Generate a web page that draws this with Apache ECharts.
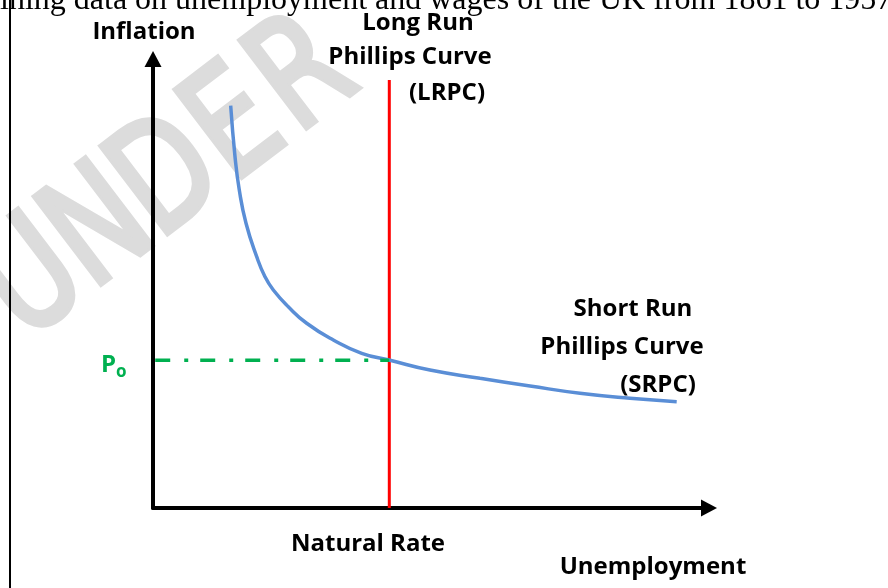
<!DOCTYPE html>
<html>
<head>
<meta charset="utf-8">
<script src="https://cdn.jsdelivr.net/npm/echarts@6/dist/echarts.min.js"></script>
<style>
html,body{margin:0;padding:0;background:#fff;}
#chart{width:888px;height:588px;}
</style>
</head>
<body>
<div id="chart"></div>
<script>
// ---- data (abstract units: unemployment 0..10, inflation 0..10) ----
const srpcX = [1.397, 1.475, 1.552, 1.673, 1.865, 2.014, 2.164, 2.433, 2.764, 3.243, 3.754, 4.263, 4.982, 5.881, 6.781, 7.680, 8.579, 9.419];
const srpcY = [8.960, 7.824, 7.082, 6.341, 5.597, 5.151, 4.855, 4.483, 4.114, 3.742, 3.445, 3.290, 3.073, 2.889, 2.717, 2.555, 2.443, 2.367];
const naturalRate = 4.25;
const lrpcTop = 9.53;
const p0 = 3.29;
const p0Start = 0.04;

const axisLabels = { y: 'Inflation', x: 'Unemployment', natural: 'Natural Rate' };
const lrpcLabel = ['Long Run', 'Phillips Curve', '(LRPC)'];
const srpcLabel = ['Short Run', 'Phillips Curve', '(SRPC)'];
const p0Label = ['P', 'o'];
const headerText = 'ining data on unemployment and wages of the UK from 1861 to 1957';
const watermarkLetters = ['U', 'N', 'D', 'E', 'R'];

const chart = echarts.init(document.getElementById('chart'), null, { renderer: 'canvas' });
const F = '"Open Sans", Lato, sans-serif';
const bold = (s) => 'bold ' + s + 'px ' + F;

function txt(text, x, y, size, align, fill) {
  return { type: 'text', z: 100, style: { text: text, x: x, y: y, font: bold(size), fill: fill || '#000', textAlign: align || 'center', textVerticalAlign: 'middle' } };
}

const axisLineStyle = { show: true, onZero: false, symbol: ['none', 'triangle'], symbolSize: [17, 16], lineStyle: { color: '#000', width: 4 } };

const option = {
  animation: false,
  backgroundColor: '#fff',
  grid: { left: 153, right: 179, top: 59, bottom: 80, containLabel: false },
  xAxis: {
    type: 'value', min: 0, max: 10,
    axisLine: axisLineStyle,
    axisTick: { show: false }, axisLabel: { show: false }, splitLine: { show: false }
  },
  yAxis: {
    type: 'value', min: 0, max: 10,
    axisLine: axisLineStyle,
    axisTick: { show: false }, axisLabel: { show: false }, splitLine: { show: false }
  },
  series: [
    {
      name: 'LRPC', type: 'line', showSymbol: false, z: 3,
      data: [[naturalRate, 0], [naturalRate, lrpcTop]],
      lineStyle: { color: '#ff0000', width: 3 }
    },
    {
      name: 'SRPC', type: 'line', showSymbol: false, smooth: 0.5, z: 4,
      data: srpcX.map((x, i) => [x, srpcY[i]]),
      lineStyle: { color: '#5a8ed6', width: 3.5 }
    },
    {
      name: 'P0', type: 'line', showSymbol: false, z: 5,
      data: [[p0Start, p0], [naturalRate, p0]],
      lineStyle: { color: '#00b050', width: 3.5, type: [15, 14, 4, 12] }
    }
  ],
  graphic: [
    // watermark
    { type: 'group', z: -10, x: 35, y: 285, rotation: 0.65,
      children: watermarkLetters.map((ch, i) => ({
        type: 'text', x: i * 85, y: 0, scaleX: 0.78, z: -10,
        style: { text: ch, font: 'normal 150px "DejaVu Sans", sans-serif', fill: '#dcdcdc', stroke: '#dcdcdc', lineWidth: 6, lineJoin: 'round', textAlign: 'center', textVerticalAlign: 'middle' }
      })) },
    // page left border
    { type: 'rect', z: 50, shape: { x: 9, y: 0, width: 2, height: 588 }, style: { fill: '#000' } },
    // header text (cut off)
    { type: 'text', z: 50, style: { text: headerText, x: 0, y: 17, font: '32px "Liberation Serif", "Times New Roman", serif', fill: '#000', textAlign: 'left', textVerticalAlign: 'bottom' } },
    txt(axisLabels.y, 144, 32, 24),
    txt(lrpcLabel[0], 418, 23, 24),
    txt(lrpcLabel[1], 410, 57, 24),
    txt(lrpcLabel[2], 447, 93, 24),
    txt(srpcLabel[0], 633, 309, 24),
    txt(srpcLabel[1], 622, 347, 24),
    txt(srpcLabel[2], 658, 385, 24),
    txt(axisLabels.natural, 368, 544, 24),
    txt(axisLabels.x, 653, 567, 24),
    txt(p0Label[0], 101, 365, 24, 'left', '#00b050'),
    txt(p0Label[1], 116, 372, 17, 'left', '#00b050')
  ]
};
chart.setOption(option);
</script>
</body>
</html>
